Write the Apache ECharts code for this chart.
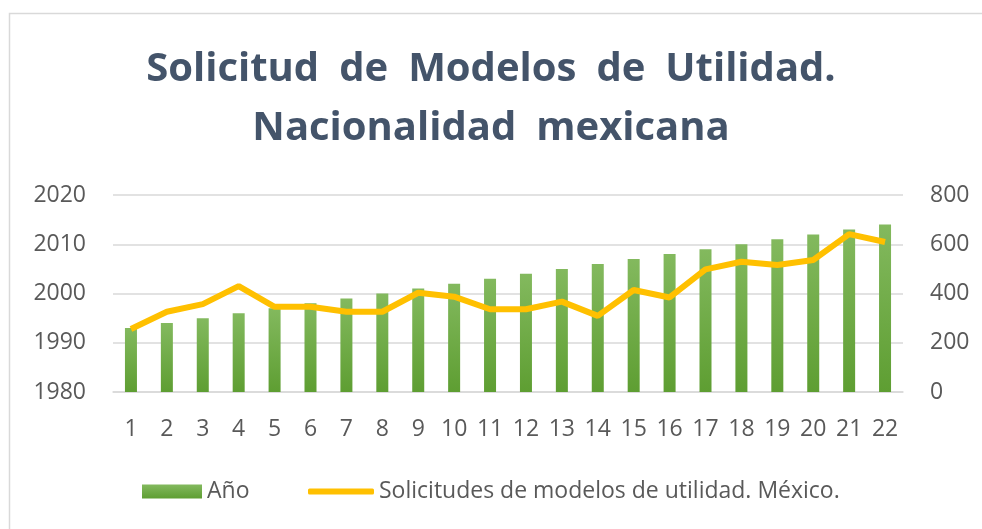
<!DOCTYPE html>
<html>
<head>
<meta charset="utf-8">
<script src="https://cdn.jsdelivr.net/npm/echarts@6/dist/echarts.min.js"></script>
<style>
  html, body { margin: 0; padding: 0; background: #fff; }
  #chart { width: 982px; height: 529px; }
</style>
</head>
<body>
<div id="chart"></div>
<script>
// categories and values
const categories = ['1', '2', '3', '4', '5', '6', '7', '8', '9', '10', '11',
  '12', '13', '14', '15', '16', '17', '18', '19', '20', '21', '22']
const years = [1993, 1994, 1995, 1996, 1997, 1998, 1999, 2000, 2001, 2002, 2003,
  2004, 2005, 2006, 2007, 2008, 2009, 2010, 2011, 2012, 2013, 2014]
const solicitudes = [256, 326, 357, 430, 346, 346, 326, 326, 403, 387, 336,
  336, 367, 309, 414, 384, 498, 529, 516, 536, 641, 609]

const barName = 'Año'
const lineName = 'Solicitudes de modelos de utilidad. México.'
const textColor = '#595959'
const font = 'Open Sans'

const chart = echarts.init(document.getElementById('chart'))

chart.setOption({
  animation: false,
  textStyle: { fontFamily: font },
  title: {
    text: 'Solicitud\u2002de\u2002Modelos\u2002de\u2002Utilidad.\nNacionalidad\u2002mexicana',
    left: 'center',
    top: 35,
    textStyle: {
      fontFamily: font,
      fontWeight: 'bold',
      fontSize: 40,
      lineHeight: 59,
      color: '#44546A'
    }
  },
  graphic: [{
    type: 'rect',
    shape: { x: 9.5, y: 13.5, width: 1200, height: 800 },
    style: { fill: 'none', stroke: '#D9D9D9', lineWidth: 1.5 },
    silent: true
  }],
  legend: [
    {
      left: 137,
      top: 475,
      itemWidth: 60,
      itemHeight: 14,
      textStyle: { fontFamily: font, fontSize: 23, color: textColor },
      data: [{ name: barName, icon: 'rect' }]
    },
    {
      left: 303,
      top: 475,
      itemWidth: 66,
      itemHeight: 6,
      itemGap: 6,
      textStyle: { fontFamily: font, fontSize: 23, color: textColor },
      data: [{ name: lineName, icon: 'roundRect' }]
    }
  ],
  grid: {
    left: 113,
    right: 79,
    top: 195,
    bottom: 137
  },
  xAxis: {
    type: 'category',
    data: categories,
    axisTick: { show: false },
    axisLine: { lineStyle: { color: '#D9D9D9', width: 1.5 } },
    axisLabel: { color: textColor, fontSize: 23, margin: 26 }
  },
  yAxis: [
    {
      type: 'value',
      min: 1980,
      max: 2020,
      interval: 10,
      axisLine: { show: false },
      axisTick: { show: false },
      splitLine: { lineStyle: { color: '#D9D9D9', width: 1.5 } },
      axisLabel: { color: textColor, fontSize: 23, margin: 27, formatter: v => String(v) }
    },
    {
      type: 'value',
      min: 0,
      max: 800,
      interval: 200,
      axisLine: { show: false },
      axisTick: { show: false },
      splitLine: { show: false },
      axisLabel: { color: textColor, fontSize: 23, margin: 27 }
    }
  ],
  series: [
    {
      name: barName,
      type: 'bar',
      data: years,
      barWidth: 12,
      itemStyle: {
        color: new echarts.graphic.LinearGradient(0, 0, 0, 1, [
          { offset: 0, color: '#83B95E' },
          { offset: 1, color: '#5E9E32' }
        ])
      }
    },
    {
      name: lineName,
      type: 'line',
      yAxisIndex: 1,
      data: solicitudes,
      symbol: 'none',
      lineStyle: { color: '#FFC000', width: 6 },
      itemStyle: { color: '#FFC000' }
    }
  ]
})
</script>
</body>
</html>
